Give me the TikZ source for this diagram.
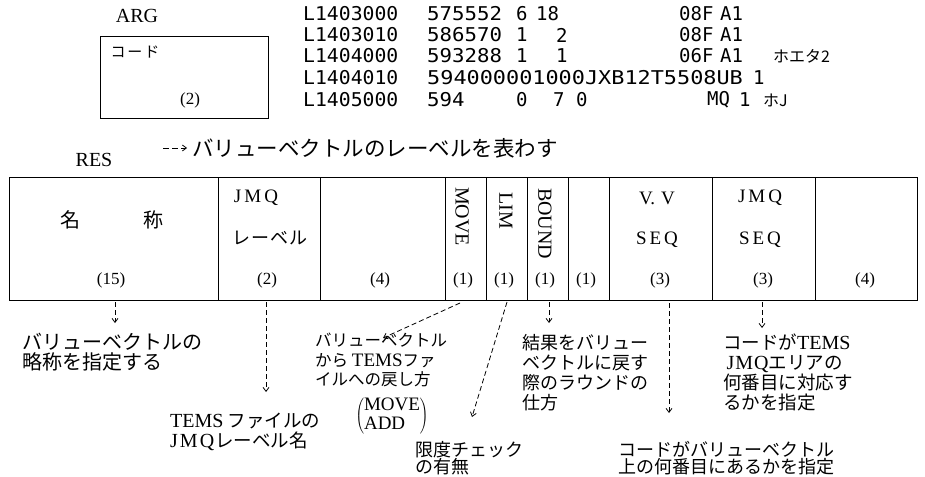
\documentclass[tikz,border=0pt]{standalone}
\usepackage{fontspec}
\usepackage{graphicx}
\setmainfont{Liberation Serif}
\newfontfamily\jp{Noto Sans CJK JP}
\newfontfamily\lstf{DejaVu Sans Mono}
\usetikzlibrary{arrows.meta}
\begin{document}
\begin{tikzpicture}[x=1pt,y=-1pt,
  jpt/.style={font=\jp\fontsize{18}{20}\selectfont, inner sep=0pt, align=left, anchor=north west},
  lst/.style={font=\lstf\fontsize{19}{22}\selectfont, inner sep=0pt, anchor=west},
  lab/.style={font=\fontsize{17}{20}\selectfont, inner sep=0pt},
  head/.style={font=\fontsize{19}{22}\selectfont, inner sep=0pt},
  vert/.style={font=\fontsize{20}{22}\selectfont, inner sep=0pt, rotate=-90, anchor=west},
  tline/.style={line width=1pt},
  darr/.style={dash pattern=on 5pt off 3pt, line width=0.8pt, -{Straight Barb[length=4pt,width=6pt]}},
]
\useasboundingbox (0,0) rectangle (925,476);

% ---- ARG ----
\node[head, font=\fontsize{20}{22}\selectfont] (arg) at (137,16) {ARG};
\node[draw, tline, minimum width=168pt, minimum height=82pt, inner sep=0pt, anchor=north west] (argbox) at (100,36) {};
\node[font=\jp\fontsize{15}{18}\selectfont, inner sep=0pt] (code) at (135,52) {コ\kern2ptー\kern2ptド};
\node[lab] (argn) at (190,100) {(2)};

% ---- listing ----
\foreach \y/\a/\b in {14/L1403000/575552, 35/L1403010/586570, 56/L1404000/593288, 78/L1404010/{}, 100/L1405000/594}{
  \node[lst] (l\y) at (303,\y) {\scalebox{1.04}[1]{\a}};
  \node[lst] (m\y) at (427,\y) {\scalebox{1.09}[1]{\b}};
}
\node[lst] (r1a) at (516,14) {6};
\node[lst] (r1b) at (536,14) {18};
\node[lst] (r1c) at (679,14) {08F};
\node[lst] (r1d) at (720,14) {A1};
\node[lst] (r2a) at (516,35) {1};
\node[lst] (r2b) at (556,35) {2};
\node[lst] (r2c) at (679,35) {08F};
\node[lst] (r2d) at (720,35) {A1};
\node[lst] (r3a) at (516,56) {1};
\node[lst] (r3b) at (556,56) {1};
\node[lst] (r3c) at (679,56) {06F};
\node[lst] (r3d) at (720,56) {A1};
\node[lst, font=\jp\fontsize{16}{18}\selectfont] (r3e) at (773,56) {ホエタ2};
\node[lst] (r4a) at (427,78) {\scalebox{1.15}[1]{594000001000JXB12T5508UB}};
\node[lst] (r4b) at (753,78) {1};
\node[lst] (r5a) at (516,100) {0};
\node[lst] (r5b) at (553,100) {7};
\node[lst] (r5c) at (576,100) {0};
\node[lst] (r5d) at (707,100) {MQ};
\node[lst] (r5e) at (739,100) {1};
\node[lst, font=\jp\fontsize{16}{18}\selectfont] (r5f) at (763,100) {ホJ};

% ---- legend ----
\coordinate (legs) at (163,148);
\node[font=\jp\fontsize{21.5}{24}\selectfont, inner sep=0pt, anchor=west] (legt) at (192,148) {バリューベクトルのレーベルを表わす};
\draw[darr, dash pattern=on 6pt off 3pt] (legs) -- ([xshift=-5pt]legt.west);
\node[head, font=\fontsize{20}{22}\selectfont] (res) at (94,160) {RES};

% ---- table ----
\draw[tline] (9,177) rectangle (917,300);
\foreach \x in {218,320,445,486,527,568,609,712,815}{
  \draw[line width=0.9pt] (\x,177) -- (\x,300);
}
\node[font=\jp\fontsize{20}{22}\selectfont, inner sep=0pt] (name) at (112,220) {名\hspace{63pt}称};
\node[head] (jmq1) at (256,198) {J\kern3pt M\kern3pt Q};
\node[font=\jp\fontsize{18}{20}\selectfont, inner sep=0pt] (lev) at (270,238) {レ\kern1ptー\kern1ptベ\kern1ptル};
\node[vert] (move) at (462,187) {MOVE};
\node[vert] (lim) at (506,192) {LIM};
\node[vert] (bound) at (545,188) {BOUND};
\node[head] (vv) at (657,198) {V.\kern6pt V};
\node[head] (seq1) at (657,240) {S\kern3pt E\kern3pt Q};
\node[head] (jmq2) at (760,198) {J\kern3pt M\kern3pt Q};
\node[head] (seq2) at (760,240) {S\kern3pt E\kern3pt Q};
\foreach \x/\t [count=\i] in {111/(15),267/(2),380/(4),463/(1),504/(1),545/(1),586/(1),660/(3),763/(3),865/(4)}{
  \node[lab] (n\i) at (\x,280) {\t};
}

% ---- explanations ----
\node[jpt, font=\jp\fontsize{20}{20}\selectfont] (t1) at (22,333) {バリューベクトルの\\略称を指定する};
\node[jpt, font=\jp\fontsize{18.5}{20}\selectfont] (t2) at (170,413) {{\rmfamily\fontsize{20}{20}\selectfont TEMS} ファイルの\\{\rmfamily\fontsize{20}{20}\selectfont J\kern2pt M\kern2pt Q\kern1pt}レーベル名};
\node[jpt, font=\jp\fontsize{16.5}{19.5}\selectfont] (t3) at (315,333) {バリューベクトル\\から {\rmfamily\fontsize{19}{19.5}\selectfont TEMS}ファ\\イルへの戻し方};
\node[inner sep=0pt, font=\fontsize{19}{20}\selectfont] (t3b) at (392,416) {$\left(\vcenter{\hbox{\begin{tabular}{@{}l@{}}MOVE\\[-1pt]ADD\end{tabular}}}\right)$};
\node[jpt, font=\jp\fontsize{18}{17}\selectfont] (t4) at (415,441) {限度チェック\\の有無};
\node[jpt] (t5) at (522,334) {結果をバリュー\\ベクトルに戻す\\際のラウンドの\\仕方};
\node[jpt, font=\jp\fontsize{18.5}{20}\selectfont] (t6) at (723,334) {コードが{\rmfamily\fontsize{20}{20}\selectfont TEMS}\\{\rmfamily\fontsize{20}{20}\selectfont\,J\kern1pt M\kern1pt Q}エリアの\\何番目に対応す\\るかを指定};
\node[jpt, font=\jp\fontsize{18}{17}\selectfont] (t7) at (618,441) {コードがバリューベクトル\\上の何番目にあるかを指定};

% ---- connectors ----
\coordinate (a1s) at (115,302); \coordinate (a1e) at (115,323);
\coordinate (a2s) at (266,302); \coordinate (a2e) at (266,392);
\coordinate (a3s) at (460,303); \coordinate (a3e) at (383,338);
\coordinate (a4s) at (507,302); \coordinate (a4e) at (472,417);
\coordinate (a5s) at (549,302); \coordinate (a5e) at (549,323);
\coordinate (a6s) at (669,303); \coordinate (a6e) at (669,413);
\coordinate (a7s) at (762,302); \coordinate (a7e) at (762,328);
\foreach \i in {1,...,7}{
  \draw[darr] (a\i s) -- (a\i e);
}
\end{tikzpicture}
\end{document}
